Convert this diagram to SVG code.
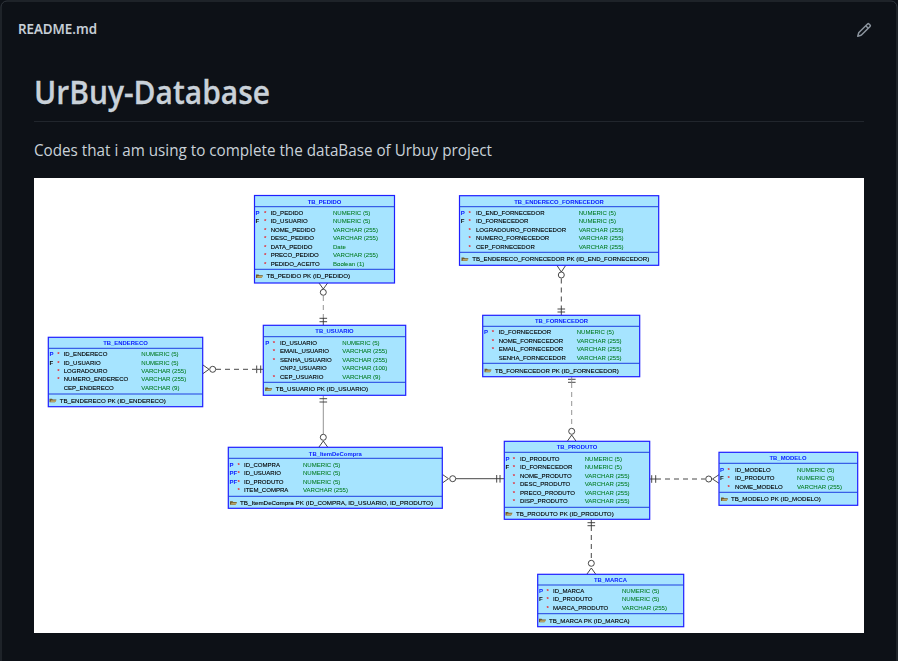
<svg xmlns="http://www.w3.org/2000/svg" width="898" height="661" viewBox="0 0 898 661">
<style>
.ui{font-family:"Open Sans","Noto Sans","Liberation Sans",sans-serif;fill:#c9d1d9}
.t{font-family:"Liberation Sans",Arial,sans-serif;font-size:6.05px;filter:url(#soft)}
.n{fill:#000;stroke:#000;stroke-width:.12;dominant-baseline:central}
.k{font-size:6.15px}
.y{fill:#007a20;stroke:#007a20;stroke-width:.06;dominant-baseline:central}
.h{fill:#0a1cff;text-anchor:middle;dominant-baseline:central;font-weight:bold;font-size:5.9px}
.p{fill:#0a1cff;dominant-baseline:central;font-weight:bold}
.f{fill:#111;dominant-baseline:central;font-weight:bold}
.s{fill:#e8222a;dominant-baseline:central;font-weight:bold}
.b{fill:#a6e4ff;stroke:#1f1fff;stroke-width:1.2}
.d{stroke:#1f3fe0;stroke-width:1;fill:none}
.c{fill:none;stroke:#333;stroke-width:.9}
.da{stroke-dasharray:5 4}
.g{stroke:#888}
</style>
<defs>
<filter id="soft" x="-5%" y="-30%" width="110%" height="160%"><feGaussianBlur stdDeviation="0.22"/></filter>
<g id="key"><path d="M0 2h2.500l.8.800h3.700l-1.500 2.700H0z" fill="#6e5a2a"/><path d="M1.500 3.400h5.500l-1.200 1.800H.8z" fill="#b8a468"/></g>
</defs>
<rect width="898" height="661" fill="#0d1117"/>
<rect x="1" y="1" width="896" height="680" rx="6" fill="#0d1117" stroke="#30363d"/>
<text class="ui" x="18" y="34" font-size="14" font-weight="600" stroke="#c9d1d9" stroke-width=".15" textLength="79" lengthAdjust="spacingAndGlyphs">README.md</text>
<path transform="translate(856,22)" fill="#8b949e" d="M11.013 1.427a1.75 1.75 0 0 1 2.474 0l1.086 1.086a1.75 1.75 0 0 1 0 2.474l-8.61 8.61c-.21.21-.47.364-.756.445l-3.251.93a.75.75 0 0 1-.927-.928l.929-3.25c.081-.286.235-.547.445-.758l8.61-8.61Zm.176 4.823L9.75 4.81l-6.286 6.287a.253.253 0 0 0-.064.108l-.558 1.953 1.953-.558a.253.253 0 0 0 .108-.064Zm1.238-3.763a.25.25 0 0 0-.354 0L10.811 3.75l1.439 1.44 1.263-1.263a.25.25 0 0 0 0-.354Z"/>
<text class="ui" x="34" y="104" font-size="32" font-weight="600" stroke="#c9d1d9" stroke-width=".3" textLength="236" lengthAdjust="spacingAndGlyphs">UrBuy-Database</text>
<rect x="34" y="121" width="830" height="1" fill="#21262d"/>
<text class="ui" x="34" y="156" font-size="16" textLength="458" lengthAdjust="spacingAndGlyphs">Codes that i am using to complete the dataBase of Urbuy project</text>
<rect x="34" y="178" width="830" height="455" fill="#fff"/>

<g id="connectors">
<path class="c g da" d="M323.300 296V318"/>
<path class="c" d="M319 283l4.300 6 4.300-6M319.500 318.300h7.600M319.500 321.700h7.600M323.300 318V325"/><circle class="c" cx="323.300" cy="292.300" r="3"/>
<path class="c da" d="M561.300 278.500V309"/>
<path class="c" d="M557 265.500l4.300 6.500 4.300-6.500M557.500 309h7.600M557.500 312h7.600M561.300 309V315"/><circle class="c" cx="561.300" cy="275" r="3"/>
<path class="c da" d="M216 369.300H256"/>
<path class="c" d="M203 365l6 4.300-6 4.300M256.700 365.500v7.600M260.700 365.500v7.600M256.700 369.300H263"/><circle class="c" cx="212.700" cy="369.300" r="3"/>
<path class="c g" d="M323.300 395.500V434"/>
<path class="c" d="M319.500 398.700h7.600M319.500 402h7.600M319 447l4.300-6 4.300 6"/><circle class="c" cx="323.300" cy="437.300" r="3"/>
<path class="c" d="M456 478.700H504M442.500 474.500l6 4.200-6 4.200M496.700 475v7.600M500 475v7.600"/><circle class="c" cx="452.700" cy="478.700" r="3"/>
<path class="c g da" d="M571.700 383V428"/>
<path class="c" d="M568 379.300h7.600M568 382.300h7.600M567.500 441l4.200-6 4.200 6"/><path class="c g" d="M571.700 377V383"/><circle class="c" cx="571.700" cy="431.300" r="3"/>
<path class="c da" d="M656 479H705"/>
<path class="c" d="M651.700 475.200v7.600M655.700 475.200v7.600M650 479H656M719 474.700l-6.500 4.300 6.500 4.300"/><circle class="c" cx="708.700" cy="479" r="3"/>
<path class="c da" d="M591.300 526V560"/>
<path class="c" d="M587.500 522.700h7.600M587.500 525.700h7.600M591.300 519.500V526M587 574l4.300-6 4.300 6"/><circle class="c" cx="591.300" cy="563.300" r="3"/>
</g>

<g id="TB_PEDIDO">
<rect class="b" x="254.500" y="195.500" width="140" height="87.500"/><path class="d" d="M254.500 206.700H394.500M254.500 269.300H394.500"/>
<text class="t h" x="324.500" y="201.500">TB_PEDIDO</text>
<text class="t p" x="255.500" y="212.700">P</text><text class="t s" x="264" y="212.700">*</text><text class="t n" x="270.700" y="212.700">ID_PEDIDO</text><text class="t y" x="333" y="212.700">NUMERIC (5)</text>
<text class="t f" x="255.500" y="221">F</text><text class="t s" x="264" y="221">*</text><text class="t n" x="270.700" y="221">ID_USUARIO</text><text class="t y" x="333" y="221">NUMERIC (5)</text>
<text class="t s" x="264" y="229.500">*</text><text class="t n" x="270.700" y="229.500">NOME_PEDIDO</text><text class="t y" x="333" y="229.500">VARCHAR (255)</text>
<text class="t s" x="264" y="238">*</text><text class="t n" x="270.700" y="238">DESC_PEDIDO</text><text class="t y" x="333" y="238">VARCHAR (255)</text>
<text class="t s" x="264" y="246.500">*</text><text class="t n" x="270.700" y="246.500">DATA_PEDIDO</text><text class="t y" x="333" y="246.500">Date</text>
<text class="t s" x="264" y="255">*</text><text class="t n" x="270.700" y="255">PRECO_PEDIDO</text><text class="t y" x="333" y="255">VARCHAR (255)</text>
<text class="t s" x="264" y="263.500">*</text><text class="t n" x="270.700" y="263.500">PEDIDO_ACEITO</text><text class="t y" x="333" y="263.500">Boolean (1)</text>
<use href="#key" x="256" y="272.500"/><text class="t n k" x="266.500" y="275.700">TB_PEDIDO PK (ID_PEDIDO)</text>
</g>

<g id="TB_ENDERECO_FORNECEDOR">
<rect class="b" x="459.500" y="195.700" width="199.200" height="69.600"/><path class="d" d="M459.500 206.700H658.700M459.500 252.300H658.700"/>
<text class="t h" x="559" y="201.700">TB_ENDERECO_FORNECEDOR</text>
<text class="t p" x="460.800" y="212.700">P</text><text class="t s" x="468.500" y="212.700">*</text><text class="t n" x="476" y="212.700">ID_END_FORNECEDOR</text><text class="t y" x="578.700" y="212.700">NUMERIC (5)</text>
<text class="t f" x="460.800" y="221">F</text><text class="t s" x="468.500" y="221">*</text><text class="t n" x="476" y="221">ID_FORNECEDOR</text><text class="t y" x="578.700" y="221">NUMERIC (5)</text>
<text class="t s" x="468.500" y="229.500">*</text><text class="t n" x="476" y="229.500">LOGRADOURO_FORNECEDOR</text><text class="t y" x="578.700" y="229.500">VARCHAR (255)</text>
<text class="t s" x="468.500" y="238">*</text><text class="t n" x="476" y="238">NUMERO_FORNECEDOR</text><text class="t y" x="578.700" y="238">VARCHAR (255)</text>
<text class="t s" x="468.500" y="246.500">*</text><text class="t n" x="476" y="246.500">CEP_FORNECEDOR</text><text class="t y" x="578.700" y="246.500">VARCHAR (255)</text>
<use href="#key" x="461.500" y="255.500"/><text class="t n k" x="472.300" y="258.700" textLength="177" lengthAdjust="spacingAndGlyphs">TB_ENDERECO_FORNECEDOR PK (ID_END_FORNECEDOR)</text>
</g>

<g id="TB_ENDERECO">
<rect class="b" x="48.300" y="337.300" width="154.400" height="69.400"/><path class="d" d="M48.300 348.300H202.700M48.300 394H202.700"/>
<text class="t h" x="125.500" y="343.300">TB_ENDERECO</text>
<text class="t p" x="49.500" y="354">P</text><text class="t s" x="57.200" y="354">*</text><text class="t n" x="63.700" y="354">ID_ENDERECO</text><text class="t y" x="141.300" y="354">NUMERIC (5)</text>
<text class="t f" x="49.500" y="362.700">F</text><text class="t s" x="57.200" y="362.700">*</text><text class="t n" x="63.700" y="362.700">ID_USUARIO</text><text class="t y" x="141.300" y="362.700">NUMERIC (5)</text>
<text class="t s" x="57.200" y="371">*</text><text class="t n" x="63.700" y="371">LOGRADOURO</text><text class="t y" x="141.300" y="371">VARCHAR (255)</text>
<text class="t s" x="57.200" y="379.300">*</text><text class="t n" x="63.700" y="379.300">NUMERO_ENDERECO</text><text class="t y" x="141.300" y="379.300">VARCHAR (255)</text>
<text class="t n" x="63.700" y="387.700">CEP_ENDERECO</text><text class="t y" x="141.300" y="387.700">VARCHAR (9)</text>
<use href="#key" x="49.500" y="396.800"/><text class="t n k" x="59.700" y="400">TB_ENDERECO PK (ID_ENDERECO)</text>
</g>

<g id="TB_USUARIO">
<rect class="b" x="263.300" y="325.300" width="142.400" height="70"/><path class="d" d="M263.300 336.700H405.700M263.300 382.300H405.700"/>
<text class="t h" x="334.500" y="331.300">TB_USUARIO</text>
<text class="t p" x="265.200" y="342.700">P</text><text class="t s" x="272.800" y="342.700">*</text><text class="t n" x="280" y="342.700">ID_USUARIO</text><text class="t y" x="342.300" y="342.700">NUMERIC (5)</text>
<text class="t s" x="272.800" y="351">*</text><text class="t n" x="280" y="351">EMAIL_USUARIO</text><text class="t y" x="342.300" y="351">VARCHAR (255)</text>
<text class="t s" x="272.800" y="359.500">*</text><text class="t n" x="280" y="359.500">SENHA_USUARIO</text><text class="t y" x="342.300" y="359.500">VARCHAR (255)</text>
<text class="t n" x="280" y="368">CNPJ_USUARIO</text><text class="t y" x="342.300" y="368">VARCHAR (100)</text>
<text class="t s" x="272.800" y="376.500">*</text><text class="t n" x="280" y="376.500">CEP_USUARIO</text><text class="t y" x="342.300" y="376.500">VARCHAR (9)</text>
<use href="#key" x="265.200" y="385.500"/><text class="t n k" x="275.700" y="388.700">TB_USUARIO PK (ID_USUARIO)</text>
</g>

<g id="TB_ItemDeCompra">
<rect class="b" x="228.300" y="447.300" width="214" height="61"/><path class="d" d="M228.300 458.300H442.300M228.300 496.300H442.300"/>
<text class="t h" x="335.300" y="453.800">TB_ItemDeCompra</text>
<text class="t p" x="229.500" y="464.700">P</text><text class="t s" x="237.500" y="464.700">*</text><text class="t n" x="244" y="464.700">ID_COMPRA</text><text class="t y" x="303" y="464.700">NUMERIC (5)</text>
<text class="t p" x="229.500" y="473">PF</text><text class="t s" x="237.500" y="473">*</text><text class="t n" x="244" y="473">ID_USUARIO</text><text class="t y" x="303" y="473">NUMERIC (5)</text>
<text class="t p" x="229.500" y="481.700">PF</text><text class="t s" x="237.500" y="481.700">*</text><text class="t n" x="244" y="481.700">ID_PRODUTO</text><text class="t y" x="303" y="481.700">NUMERIC (5)</text>
<text class="t s" x="237.500" y="490">*</text><text class="t n" x="244" y="490">ITEM_COMPRA</text><text class="t y" x="303" y="490">VARCHAR (255)</text>
<use href="#key" x="230" y="499.300"/><text class="t n k" x="240" y="502.500" textLength="193" lengthAdjust="spacingAndGlyphs">TB_ItemDeCompra PK (ID_COMPRA, ID_USUARIO, ID_PRODUTO)</text>
</g>

<g id="TB_FORNECEDOR">
<rect class="b" x="482.700" y="315.300" width="157" height="61.400"/><path class="d" d="M482.700 326.300H639.700M482.700 363.300H639.700"/>
<text class="t h" x="561.500" y="321.300">TB_FORNECEDOR</text>
<text class="t p" x="484" y="332.300">P</text><text class="t s" x="491.800" y="332.300">*</text><text class="t n" x="498.700" y="332.300">ID_FORNECEDOR</text><text class="t y" x="576.700" y="332.300">NUMERIC (5)</text>
<text class="t s" x="491.800" y="340.700">*</text><text class="t n" x="498.700" y="340.700">NOME_FORNECEDOR</text><text class="t y" x="576.700" y="340.700">VARCHAR (255)</text>
<text class="t s" x="491.800" y="349">*</text><text class="t n" x="498.700" y="349">EMAIL_FORNECEDOR</text><text class="t y" x="576.700" y="349">VARCHAR (255)</text>
<text class="t n" x="498.700" y="357.700">SENHA_FORNECEDOR</text><text class="t y" x="576.700" y="357.700">VARCHAR (255)</text>
<use href="#key" x="484.500" y="366.800"/><text class="t n k" x="495" y="370">TB_FORNECEDOR PK (ID_FORNECEDOR)</text>
</g>

<g id="TB_PRODUTO">
<rect class="b" x="504.300" y="441.300" width="145.400" height="78"/><path class="d" d="M504.300 452.300H649.700M504.300 507.300H649.700"/>
<text class="t h" x="577" y="447.300">TB_PRODUTO</text>
<text class="t p" x="505.500" y="458.700">P</text><text class="t s" x="512.800" y="458.700">*</text><text class="t n" x="520" y="458.700">ID_PRODUTO</text><text class="t y" x="584.700" y="458.700">NUMERIC (5)</text>
<text class="t f" x="505.500" y="467">F</text><text class="t s" x="512.800" y="467">*</text><text class="t n" x="520" y="467">ID_FORNECEDOR</text><text class="t y" x="584.700" y="467">NUMERIC (5)</text>
<text class="t s" x="512.800" y="475.500">*</text><text class="t n" x="520" y="475.500">NOME_PRODUTO</text><text class="t y" x="584.700" y="475.500">VARCHAR (255)</text>
<text class="t s" x="512.800" y="484">*</text><text class="t n" x="520" y="484">DESC_PRODUTO</text><text class="t y" x="584.700" y="484">VARCHAR (255)</text>
<text class="t s" x="512.800" y="492.500">*</text><text class="t n" x="520" y="492.500">PRECO_PRODUTO</text><text class="t y" x="584.700" y="492.500">VARCHAR (255)</text>
<text class="t s" x="512.800" y="501">*</text><text class="t n" x="520" y="501">DISP_PRODUTO</text><text class="t y" x="584.700" y="501">VARCHAR (255)</text>
<use href="#key" x="505.500" y="510"/><text class="t n k" x="516" y="513">TB_PRODUTO PK (ID_PRODUTO)</text>
</g>

<g id="TB_MODELO">
<rect class="b" x="719" y="452.300" width="138.700" height="53"/><path class="d" d="M719 463.300H857.700M719 492.300H857.700"/>
<text class="t h" x="788" y="458.300">TB_MODELO</text>
<text class="t p" x="720" y="469.500">P</text><text class="t s" x="727.500" y="469.500">*</text><text class="t n" x="735" y="469.500">ID_MODELO</text><text class="t y" x="797" y="469.500">NUMERIC (5)</text>
<text class="t f" x="720" y="478">F</text><text class="t s" x="727.500" y="478">*</text><text class="t n" x="735" y="478">ID_PRODUTO</text><text class="t y" x="797" y="478">NUMERIC (5)</text>
<text class="t s" x="727.500" y="486.500">*</text><text class="t n" x="735" y="486.500">NOME_MODELO</text><text class="t y" x="797" y="486.500">VARCHAR (255)</text>
<use href="#key" x="721" y="495.500"/><text class="t n k" x="731" y="498.700">TB_MODELO PK (ID_MODELO)</text>
</g>

<g id="TB_MARCA">
<rect class="b" x="537.700" y="574.300" width="146" height="52.400"/><path class="d" d="M537.700 585H683.700M537.700 613.700H683.700"/>
<text class="t h" x="610.500" y="580">TB_MARCA</text>
<text class="t p" x="539" y="591">P</text><text class="t s" x="546.500" y="591">*</text><text class="t n" x="553" y="591">ID_MARCA</text><text class="t y" x="622" y="591">NUMERIC (5)</text>
<text class="t f" x="539" y="599.300">F</text><text class="t s" x="546.500" y="599.300">*</text><text class="t n" x="553" y="599.300">ID_PRODUTO</text><text class="t y" x="622" y="599.300">NUMERIC (5)</text>
<text class="t s" x="546.500" y="608">*</text><text class="t n" x="553" y="608">MARCA_PRODUTO</text><text class="t y" x="622" y="608">VARCHAR (255)</text>
<use href="#key" x="539" y="616.800"/><text class="t n k" x="549" y="620">TB_MARCA PK (ID_MARCA)</text>
</g>
</svg>
